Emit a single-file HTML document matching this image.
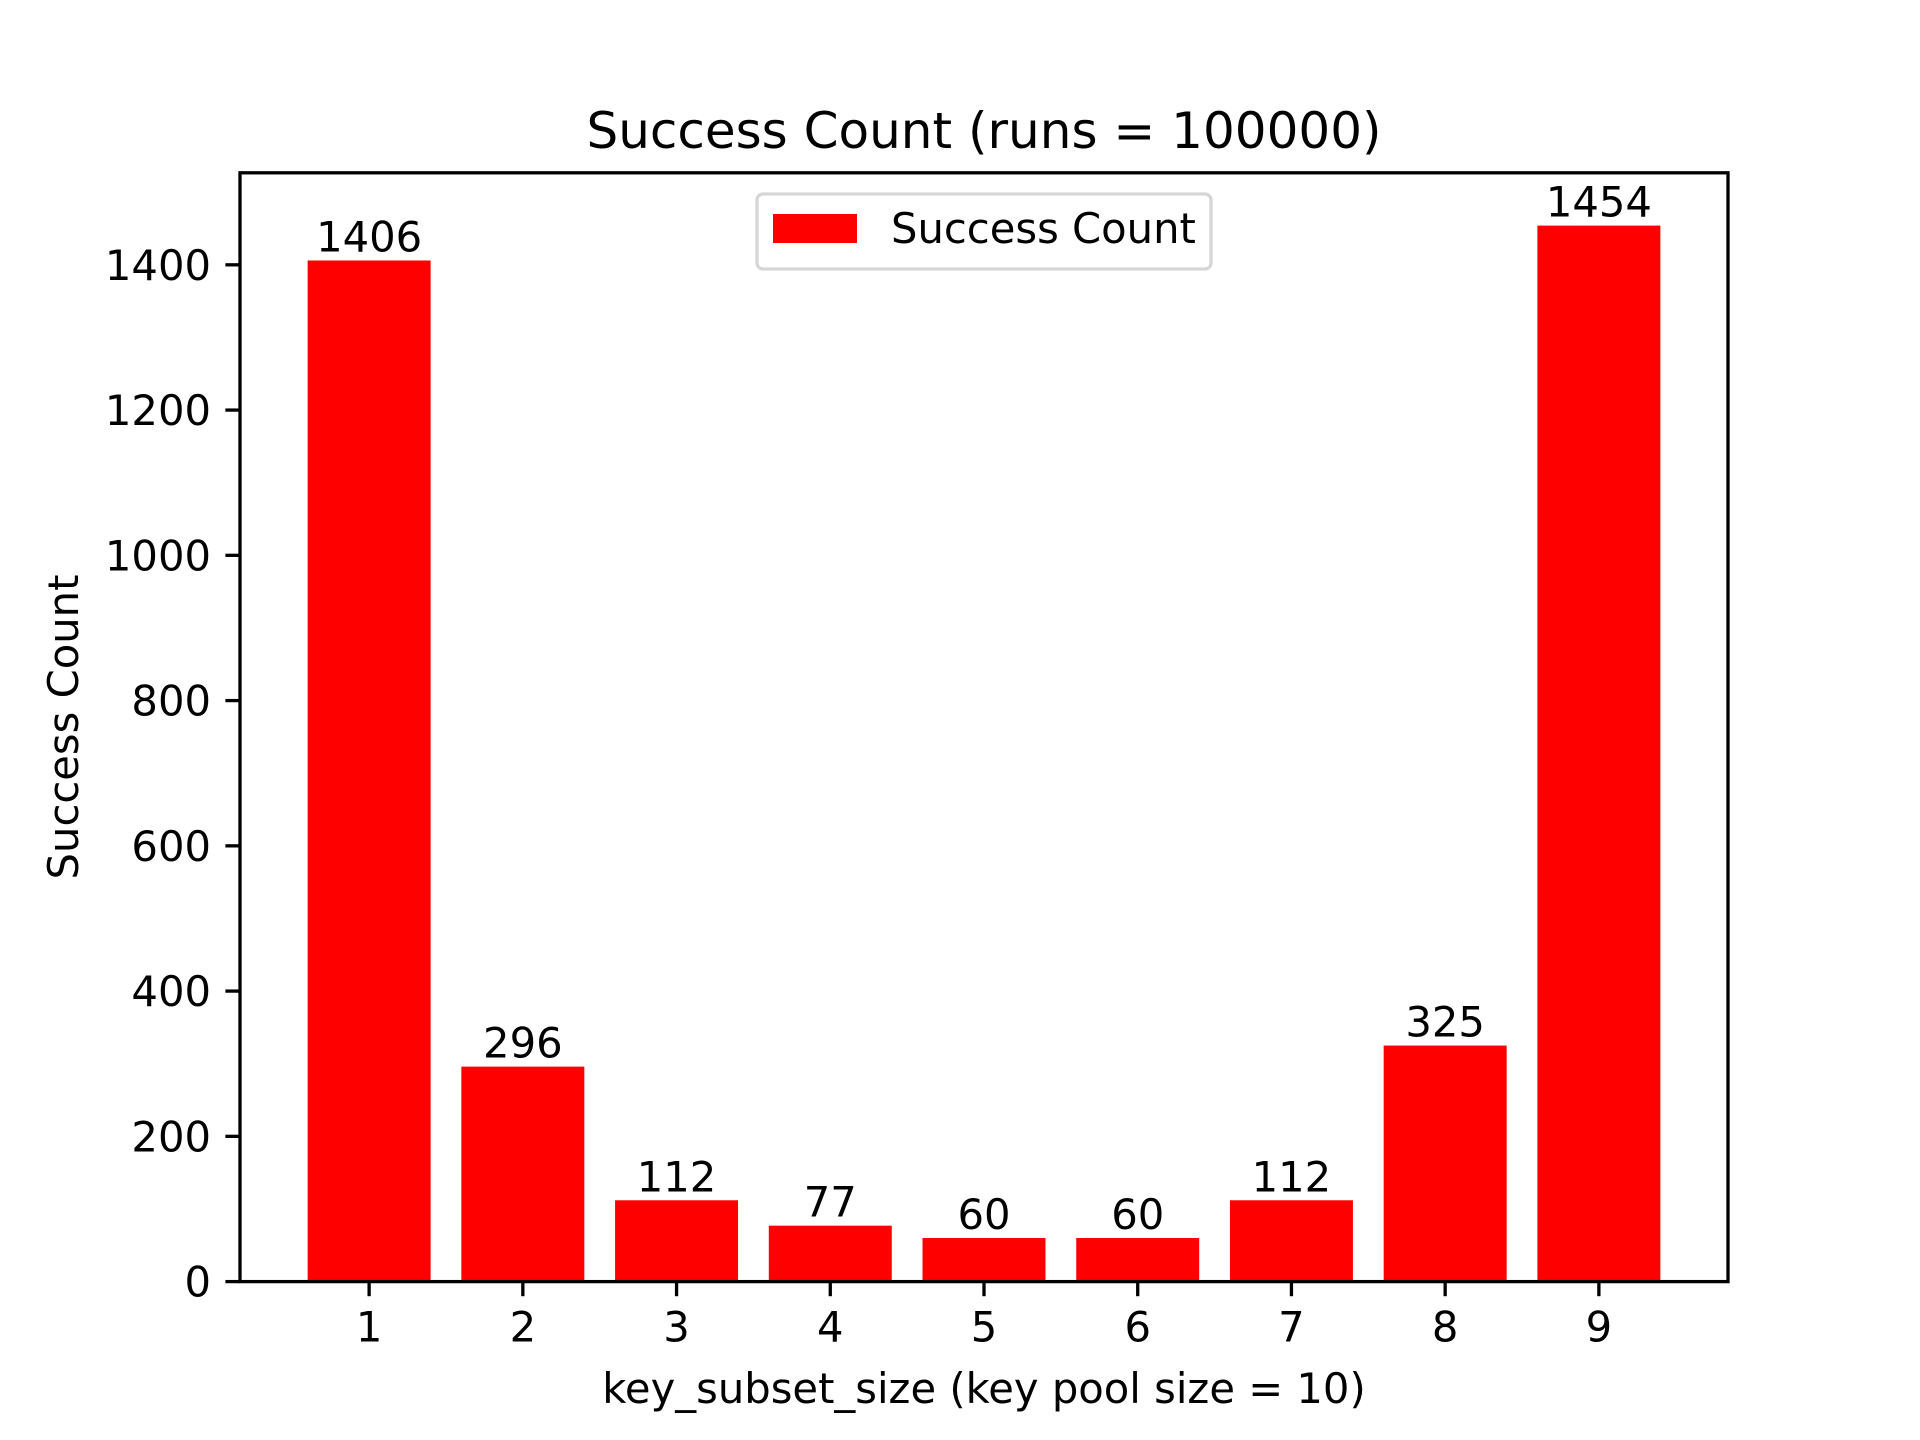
<!DOCTYPE html>
<html><head><meta charset="utf-8"><style>
html,body{margin:0;padding:0;background:#fff;}
svg{display:block;font-family:"DejaVu Sans","Liberation Sans",sans-serif;}
</style></head><body>
<svg id="chart" width="1920" height="1440" viewBox="0 0 1920 1440" xmlns="http://www.w3.org/2000/svg">
<rect width="1920" height="1440" fill="#fff"/>
<g id="bars"></g>
<g id="labels" font-size="41.7" text-anchor="middle"></g>
<g id="xticks" font-size="41.7" text-anchor="middle"></g>
<g id="yticks" font-size="41.7" text-anchor="end"></g>
<rect x="240" y="172.8" width="1488" height="1108.8" fill="none" stroke="#000" stroke-width="3.3"/>
<text x="984" y="148" font-size="50" text-anchor="middle">Success Count (runs = 100000)</text>
<text x="984" y="1403" font-size="41.7" text-anchor="middle">key_subset_size (key pool size = 10)</text>
<text transform="translate(78,727) rotate(-90)" font-size="41.7" text-anchor="middle">Success Count</text>
<g>
<rect x="757" y="194" width="454" height="75" rx="6" fill="#fff" fill-opacity="0.8" stroke="#d6d6d6" stroke-width="3.3"/>
<rect x="773" y="214" width="84" height="29" fill="#ff0000"/>
<text x="891" y="243" font-size="41.7">Success Count</text>
</g>
</svg>
<script>
const categories = [1,2,3,4,5,6,7,8,9];
const values = [1406,296,112,77,60,60,112,325,1454];
const yTicks = [0,200,400,600,800,1000,1200,1400];
const NS = "http://www.w3.org/2000/svg";
const L=240,R=1728,T=172.8,B=1281.6;
const barW=0.8;
const xMin=Math.min(...categories)-barW/2, xMax=Math.max(...categories)+barW/2;
const xs=(xMax-xMin)*0.05;
const x0=xMin-xs, x1=xMax+xs;
const yMax=Math.max(...values)*1.05;
function X(v){return L+(v-x0)/(x1-x0)*(R-L);}
function Y(v){return B-v/yMax*(B-T);}
const gb=document.getElementById('bars'), gl=document.getElementById('labels');
const gx=document.getElementById('xticks'), gy=document.getElementById('yticks');
function mk(tag,attrs,parent){const e=document.createElementNS(NS,tag);for(const k in attrs)e.setAttribute(k,attrs[k]);parent.appendChild(e);return e;}
categories.forEach((c,i)=>{
  const v=values[i];
  const r=mk('rect',{x:X(c-barW/2),y:Y(v),width:X(c+barW/2)-X(c-barW/2),height:B-Y(v),fill:'#ff0000'},gb);
  
  
  const t=mk('text',{x:X(c),y:Y(v)-9},gl);
  t.textContent=v;
  
  
  const tk=mk('line',{x1:X(c),x2:X(c),y1:B,y2:B+14.6,stroke:'#000','stroke-width':3.3},gx);
  
  
  const tl=mk('text',{x:X(c),y:B+60},gx);
  tl.textContent=c;
  
  
});
yTicks.forEach(v=>{
  const tk=mk('line',{x1:L-14.6,x2:L,y1:Y(v),y2:Y(v),stroke:'#000','stroke-width':3.3},gy);
  
  
  const tl=mk('text',{x:L-29,y:Y(v)+15},gy);
  tl.textContent=v;
  
  
});
</script>
</body></html>
